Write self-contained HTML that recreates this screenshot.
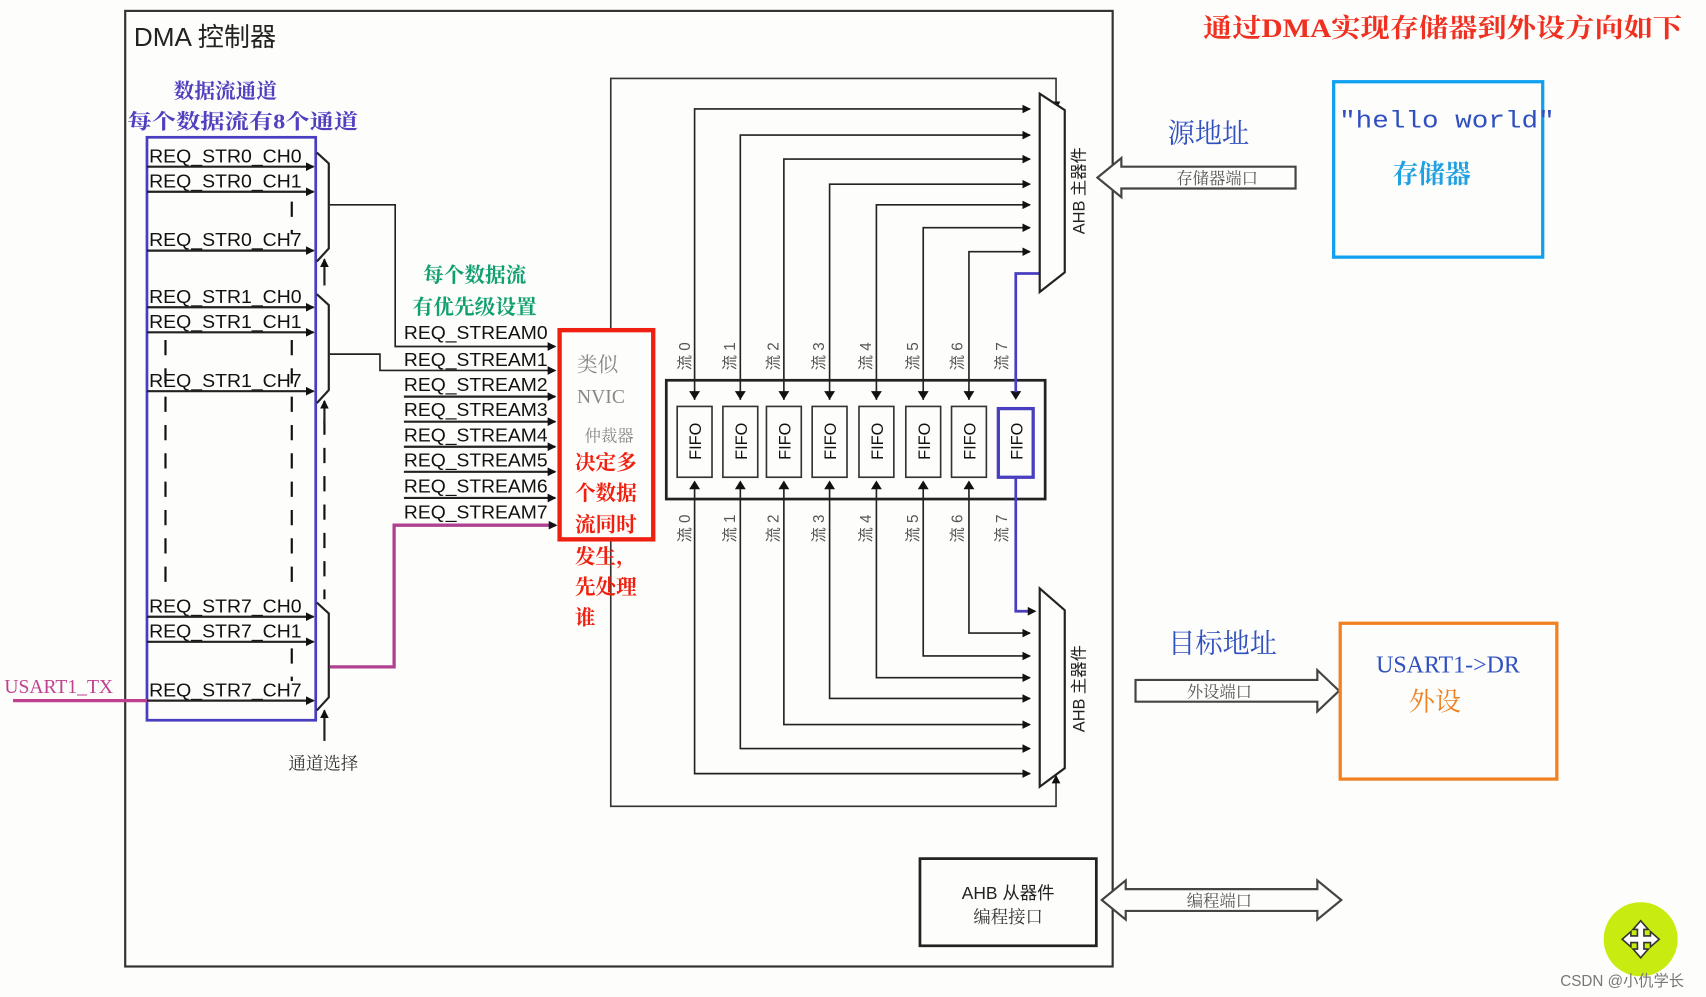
<!DOCTYPE html>
<html><head><meta charset="utf-8"><style>
html,body{margin:0;padding:0;background:#fdfdfb;}
svg{display:block;}
text{font-family:"Liberation Sans","Noto Sans CJK SC",sans-serif;}
.s{font-family:"Liberation Serif","Noto Serif CJK SC",serif;}
.m{font-family:"Liberation Mono",monospace;}
</style></head><body>
<svg width="1706" height="997" viewBox="0 0 1567 915" preserveAspectRatio="none" xmlns="http://www.w3.org/2000/svg">
<defs>
<marker id="a" markerWidth="8" markerHeight="8" refX="7" refY="4" orient="auto" markerUnits="userSpaceOnUse"><path d="M0,0 L8,4 L0,8 z" fill="#111"/></marker>
</defs>
<rect width="1567" height="915" fill="#fdfdfb"/>
<rect x="115" y="10" width="907" height="877" fill="none" stroke="#333" stroke-width="2"/>
<text x="123" y="42" font-size="24" fill="#222">DMA 控制器</text>
<text x="1105" y="34" font-size="24" fill="#f03020" font-weight="bold" class="s" textLength="440" lengthAdjust="spacingAndGlyphs">通过DMA实现存储器到外设方向如下</text>
<text x="207" y="90" font-size="19" fill="#5040c0" font-weight="bold" text-anchor="middle" class="s">数据流通道</text>
<text x="117" y="118" font-size="19" fill="#5040c0" font-weight="bold" class="s" textLength="212" lengthAdjust="spacingAndGlyphs">每个数据流有8个通道</text>
<g stroke="#111" stroke-width="2" stroke-dasharray="14,12" fill="none">
<line x1="152" y1="312" x2="152" y2="545"/>
<line x1="268" y1="185" x2="268" y2="215"/>
<line x1="268" y1="312" x2="268" y2="545"/>
<line x1="268" y1="595" x2="268" y2="625"/>
<line x1="298" y1="385" x2="298" y2="550"/>
</g>
<rect x="135" y="126" width="155" height="535" fill="none" stroke="#4a3ec0" stroke-width="2.5"/>
<g font-size="17" fill="#111">
<text x="137" y="149" textLength="140" lengthAdjust="spacingAndGlyphs">REQ_STR0_CH0</text><text x="137" y="172" textLength="140" lengthAdjust="spacingAndGlyphs">REQ_STR0_CH1</text><text x="137" y="226" textLength="140" lengthAdjust="spacingAndGlyphs">REQ_STR0_CH7</text>
<text x="137" y="278" textLength="140" lengthAdjust="spacingAndGlyphs">REQ_STR1_CH0</text><text x="137" y="301" textLength="140" lengthAdjust="spacingAndGlyphs">REQ_STR1_CH1</text><text x="137" y="355" textLength="140" lengthAdjust="spacingAndGlyphs">REQ_STR1_CH7</text>
<text x="137" y="562" textLength="140" lengthAdjust="spacingAndGlyphs">REQ_STR7_CH0</text><text x="137" y="585" textLength="140" lengthAdjust="spacingAndGlyphs">REQ_STR7_CH1</text><text x="137" y="639" textLength="140" lengthAdjust="spacingAndGlyphs">REQ_STR7_CH7</text>
</g>
<g stroke="#222" stroke-width="2" marker-end="url(#a)">
<line x1="135" y1="153" x2="288" y2="153"/><line x1="135" y1="176" x2="288" y2="176"/><line x1="135" y1="230" x2="288" y2="230"/>
<line x1="135" y1="282" x2="288" y2="282"/><line x1="135" y1="305" x2="288" y2="305"/><line x1="135" y1="359" x2="288" y2="359"/>
<line x1="135" y1="566" x2="288" y2="566"/><line x1="135" y1="589" x2="288" y2="589"/><line x1="135" y1="643" x2="288" y2="643"/>
<line x1="298" y1="262" x2="298" y2="238"/><line x1="298" y1="390" x2="298" y2="368"/><line x1="298" y1="680" x2="298" y2="652"/>
</g>
<g fill="none" stroke="#222" stroke-width="2">
<path d="M291,140 L302,150 L302,228 L291,240"/>
<path d="M291,270 L302,280 L302,358 L291,370"/>
<path d="M291,553 L302,563 L302,640 L291,652"/>
<path d="M303,188 H363 V318 H510" stroke-width="1.5" marker-end="url(#a)"/>
<path d="M303,325 H349 V340 H510" stroke-width="1.5" marker-end="url(#a)"/>
</g>
<path d="M303,612 H362 V482 H510" fill="none" stroke="#b04090" stroke-width="3"/>
<polygon points="504,478 512,482 504,486" fill="#111"/>
<line x1="12" y1="643" x2="135" y2="643" stroke="#c04090" stroke-width="3"/>
<text x="4" y="636" font-size="18" fill="#c04090" class="s">USART1_TX</text>
<text x="297" y="706" font-size="16" fill="#333" text-anchor="middle" class="s">通道选择</text>
<text x="436" y="259" font-size="19" fill="#10a070" font-weight="bold" text-anchor="middle" class="s">每个数据流</text>
<text x="436" y="288" font-size="19" fill="#10a070" font-weight="bold" text-anchor="middle" class="s">有优先级设置</text>
<g font-size="17" fill="#111">
<text x="371" y="311" textLength="132" lengthAdjust="spacingAndGlyphs">REQ_STREAM0</text><text x="371" y="336" textLength="132" lengthAdjust="spacingAndGlyphs">REQ_STREAM1</text><text x="371" y="359" textLength="132" lengthAdjust="spacingAndGlyphs">REQ_STREAM2</text><text x="371" y="382" textLength="132" lengthAdjust="spacingAndGlyphs">REQ_STREAM3</text>
<text x="371" y="405" textLength="132" lengthAdjust="spacingAndGlyphs">REQ_STREAM4</text><text x="371" y="428" textLength="132" lengthAdjust="spacingAndGlyphs">REQ_STREAM5</text><text x="371" y="452" textLength="132" lengthAdjust="spacingAndGlyphs">REQ_STREAM6</text><text x="371" y="476" textLength="132" lengthAdjust="spacingAndGlyphs">REQ_STREAM7</text>
</g>
<g stroke="#222" stroke-width="2" marker-end="url(#a)">
<line x1="371" y1="364" x2="510" y2="364"/><line x1="371" y1="387" x2="510" y2="387"/><line x1="371" y1="410" x2="510" y2="410"/>
<line x1="371" y1="433" x2="510" y2="433"/><line x1="371" y1="457" x2="510" y2="457"/>
</g>
<g fill="none" stroke="#333" stroke-width="1.5">
<path d="M561,303 V72 H970 V100" marker-end="url(#a)"/>
<path d="M561,495 V740 H970 V712" marker-end="url(#a)"/>
</g>
<rect x="514" y="303" width="86" height="192" fill="#fdfdfb" stroke="#f02010" stroke-width="4"/>
<text x="530" y="341" font-size="19" fill="#888" class="s">类似</text>
<text x="530" y="370" font-size="18" fill="#888" class="s">NVIC</text>
<text x="537" y="405" font-size="15" fill="#888" class="s">仲裁器</text>
<g font-size="19" fill="#f02010" font-weight="bold">
<text x="528" y="431" class="s">决定多</text><text x="528" y="459" class="s">个数据</text><text x="528" y="488" class="s">流同时</text>
<text x="528" y="517" class="s">发生，</text><text x="528" y="545" class="s">先处理</text><text x="528" y="573" class="s">谁</text>
</g>
<rect x="612" y="349" width="348" height="109" fill="none" stroke="#222" stroke-width="2.5"/>
<g fill="none" stroke="#222" stroke-width="1.5">
<path d="M638,367 V100 H946" marker-end="url(#a)"/><path d="M680,367 V124 H946" marker-end="url(#a)"/>
<path d="M720,367 V146 H946" marker-end="url(#a)"/><path d="M762,367 V169 H946" marker-end="url(#a)"/>
<path d="M805,367 V188 H946" marker-end="url(#a)"/><path d="M848,367 V209 H946" marker-end="url(#a)"/>
<path d="M890,367 V231 H946" marker-end="url(#a)"/>
<path d="M638,447 V710 H946" marker-end="url(#a)"/><path d="M680,447 V687 H946" marker-end="url(#a)"/>
<path d="M720,447 V665 H946" marker-end="url(#a)"/><path d="M762,447 V641 H946" marker-end="url(#a)"/>
<path d="M805,447 V622 H946" marker-end="url(#a)"/><path d="M848,447 V602 H946" marker-end="url(#a)"/>
<path d="M890,447 V581 H946" marker-end="url(#a)"/>
</g>
<g fill="#111">
<polygon points="633,359 643,359 638,367"/><polygon points="675,359 685,359 680,367"/><polygon points="715,359 725,359 720,367"/><polygon points="757,359 767,359 762,367"/>
<polygon points="800,359 810,359 805,367"/><polygon points="843,359 853,359 848,367"/><polygon points="885,359 895,359 890,367"/><polygon points="928,359 938,359 933,367"/>
<polygon points="633,449 643,449 638,441"/><polygon points="675,449 685,449 680,441"/><polygon points="715,449 725,449 720,441"/><polygon points="757,449 767,449 762,441"/>
<polygon points="800,449 810,449 805,441"/><polygon points="843,449 853,449 848,441"/><polygon points="885,449 895,449 890,441"/>
</g>
<path d="M955,251 H933 V360" fill="none" stroke="#4a3ec0" stroke-width="2.5"/>
<path d="M933,438 V561 H946" fill="none" stroke="#4a3ec0" stroke-width="2.5"/>
<polygon points="944,557 952,561 944,565" fill="#111"/>
<g fill="none" stroke="#333" stroke-width="1.5">
<rect x="622" y="373" width="32" height="65"/><rect x="664" y="373" width="32" height="65"/><rect x="704" y="373" width="32" height="65"/><rect x="746" y="373" width="32" height="65"/>
<rect x="789" y="373" width="32" height="65"/><rect x="832" y="373" width="32" height="65"/><rect x="874" y="373" width="32" height="65"/>
</g>
<rect x="917" y="375" width="32" height="63" fill="none" stroke="#4a3ec0" stroke-width="3"/>
<g font-size="15" fill="#111" text-anchor="middle">
<text transform="translate(644,405) rotate(-90)">FIFO</text><text transform="translate(686,405) rotate(-90)">FIFO</text><text transform="translate(726,405) rotate(-90)">FIFO</text><text transform="translate(768,405) rotate(-90)">FIFO</text>
<text transform="translate(811,405) rotate(-90)">FIFO</text><text transform="translate(854,405) rotate(-90)">FIFO</text><text transform="translate(896,405) rotate(-90)">FIFO</text><text transform="translate(939,405) rotate(-90)">FIFO</text>
</g>
<g font-size="14" fill="#555" text-anchor="middle">
<text transform="translate(634,327) rotate(-90)">流 0</text><text transform="translate(675,327) rotate(-90)">流 1</text><text transform="translate(715,327) rotate(-90)">流 2</text><text transform="translate(757,327) rotate(-90)">流 3</text>
<text transform="translate(800,327) rotate(-90)">流 4</text><text transform="translate(843,327) rotate(-90)">流 5</text><text transform="translate(884,327) rotate(-90)">流 6</text><text transform="translate(925,327) rotate(-90)">流 7</text>
<text transform="translate(634,485) rotate(-90)">流 0</text><text transform="translate(675,485) rotate(-90)">流 1</text><text transform="translate(715,485) rotate(-90)">流 2</text><text transform="translate(757,485) rotate(-90)">流 3</text>
<text transform="translate(800,485) rotate(-90)">流 4</text><text transform="translate(843,485) rotate(-90)">流 5</text><text transform="translate(884,485) rotate(-90)">流 6</text><text transform="translate(925,485) rotate(-90)">流 7</text>
</g>
<polygon points="955,86 978,101 978,250 955,268" fill="#fdfdfb" stroke="#222" stroke-width="2"/>
<polygon points="955,540 978,560 978,705 955,722" fill="#fdfdfb" stroke="#222" stroke-width="2"/>
<text transform="translate(996,175) rotate(-90)" font-size="15" fill="#222" text-anchor="middle">AHB 主器件</text>
<text transform="translate(996,632) rotate(-90)" font-size="15" fill="#222" text-anchor="middle">AHB 主器件</text>
<text x="1110" y="131" font-size="25" fill="#3050c0" text-anchor="middle" class="s">源地址</text>
<polygon points="1008,163 1030,145 1030,153 1190,153 1190,173 1030,173 1030,181" fill="#fdfdfb" stroke="#444" stroke-width="2"/>
<text x="1118" y="169" font-size="15" fill="#555" text-anchor="middle" class="s">存储器端口</text>
<rect x="1225" y="75" width="192" height="161" fill="none" stroke="#10a0f0" stroke-width="3"/>
<text x="1230" y="117" font-size="22" fill="#3050c0" class="m" textLength="198" lengthAdjust="spacingAndGlyphs">″hello world″</text>
<text x="1315" y="168" font-size="24" fill="#20a0e0" font-weight="bold" text-anchor="middle" class="s">存储器</text>
<text x="1123" y="599" font-size="25" fill="#3050c0" text-anchor="middle" class="s">目标地址</text>
<polygon points="1043,624 1210,624 1210,615 1230,634 1210,653 1210,644 1043,644" fill="#fdfdfb" stroke="#444" stroke-width="2"/>
<text x="1120" y="640" font-size="15" fill="#555" text-anchor="middle" class="s">外设端口</text>
<rect x="1231" y="572" width="199" height="143" fill="none" stroke="#f08020" stroke-width="3"/>
<text x="1330" y="617" font-size="22" fill="#3050c0" text-anchor="middle" class="s">USART1-&gt;DR</text>
<text x="1318" y="652" font-size="24" fill="#f08020" text-anchor="middle" class="s">外设</text>
<rect x="845" y="788" width="162" height="80" fill="none" stroke="#222" stroke-width="2.5"/>
<text x="926" y="825" font-size="16" fill="#222" text-anchor="middle">AHB 从器件</text>
<text x="926" y="847" font-size="16" fill="#333" text-anchor="middle" class="s">编程接口</text>
<polygon points="1012,826 1034,808 1034,816 1210,816 1210,808 1232,826 1210,844 1210,836 1034,836 1034,844" fill="#fdfdfb" stroke="#444" stroke-width="2"/>
<text x="1120" y="832" font-size="15" fill="#555" text-anchor="middle" class="s">编程端口</text>
<circle cx="1507" cy="862" r="34" fill="#c8ec10"/>
<path d="M1507,845 L1500,853 H1504 V859 H1498 V855 L1490,862 L1498,869 V865 H1504 V871 H1500 L1507,879 L1514,871 H1510 V865 H1516 V869 L1524,862 L1516,855 V859 H1510 V853 H1514 Z" fill="#fff" stroke="#333" stroke-width="1.5"/>
<text x="1490" y="905" font-size="14" fill="#777" text-anchor="middle">CSDN @小仇学长</text>
</svg>
</body></html>
